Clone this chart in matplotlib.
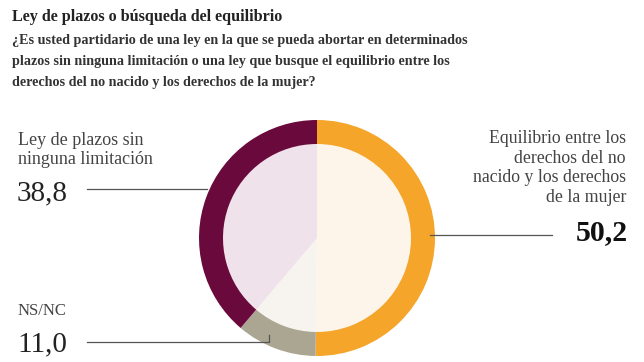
import matplotlib
matplotlib.use("Agg")
import matplotlib.pyplot as plt

categories = ["Equilibrio entre los\nderechos del no\nnacido y los derechos\nde la mujer", "NS/NC", "Ley de plazos sin\nninguna limitación"]
values = [50.2, 11.0, 38.8]
value_labels = ["50,2", "11,0", "38,8"]
ring_colors = ["#f4a52a", "#aaa692", "#6a0a3c"]
fill_colors = ["#fdf5e9", "#f7f4ef", "#efe2ea"]

W, H = 644, 362
fig = plt.figure(figsize=(W / 100, H / 100), dpi=100)
ax = fig.add_axes([0, 0, 1, 1])

def Y(py):
    return H - py

cx, cy, R, ring_w = 317, 238, 118, 24
ax.pie(values, colors=fill_colors, startangle=90, counterclock=False,
       center=(cx, Y(cy)), radius=R - ring_w + 1, frame=True,
       wedgeprops=dict(linewidth=0))
ax.pie(values, colors=ring_colors, startangle=90, counterclock=False,
       center=(cx, Y(cy)), radius=R, frame=True,
       wedgeprops=dict(width=ring_w, linewidth=0))
ax.set_xlim(0, W)
ax.set_ylim(0, H)
ax.set_aspect("auto")
ax.axis("off")

serif = ["Liberation Serif", "DejaVu Serif"]
ax.text(12, Y(21), "Ley de plazos o búsqueda del equilibrio", family=serif,
        fontsize=11.6, fontweight="bold", color="#222222", va="baseline", ha="left")
sub = ["¿Es usted partidario de una ley en la que se pueda abortar en determinados",
       "plazos sin ninguna limitación o una ley que busque el equilibrio entre los",
       "derechos del no nacido y los derechos de la mujer?"]
for i, s in enumerate(sub):
    ax.text(12, Y(44 + 21 * i), s, family=serif, fontsize=10.2, fontweight="bold",
            color="#333333", va="baseline", ha="left")

# Left: Ley de plazos
for i, s in enumerate(categories[2].split("\n")):
    ax.text(18, Y(145 + 18.5 * i), s, family=serif, fontsize=13, color="#444444",
            va="baseline", ha="left")
ax.text(17, Y(200), value_labels[2], family=serif, fontsize=21, color="#222222",
        va="baseline", ha="left")
ax.plot([87, 207], [Y(189), Y(189)], color="#555555", lw=0.9)

# NS/NC
ax.text(18, Y(315), categories[1], family=serif, fontsize=12, color="#444444",
        va="baseline", ha="left")
ax.text(17, Y(351), value_labels[1], family=serif, fontsize=21, color="#222222",
        va="baseline", ha="left")
ax.plot([87, 269, 269], [Y(342), Y(342), Y(335)], color="#555555", lw=0.9)

# Right: Equilibrio
for i, s in enumerate(categories[0].split("\n")):
    ax.text(626, Y(143 + 19.7 * i), s, family=serif, fontsize=12.8, color="#444444",
            va="baseline", ha="right")
ax.text(628, Y(240), value_labels[0], family=serif, fontsize=21.5, fontweight="bold",
        color="#111111", va="baseline", ha="right")
ax.plot([430, 552], [Y(235), Y(235)], color="#555555", lw=0.9)

fig.savefig("out.png", dpi=100)
